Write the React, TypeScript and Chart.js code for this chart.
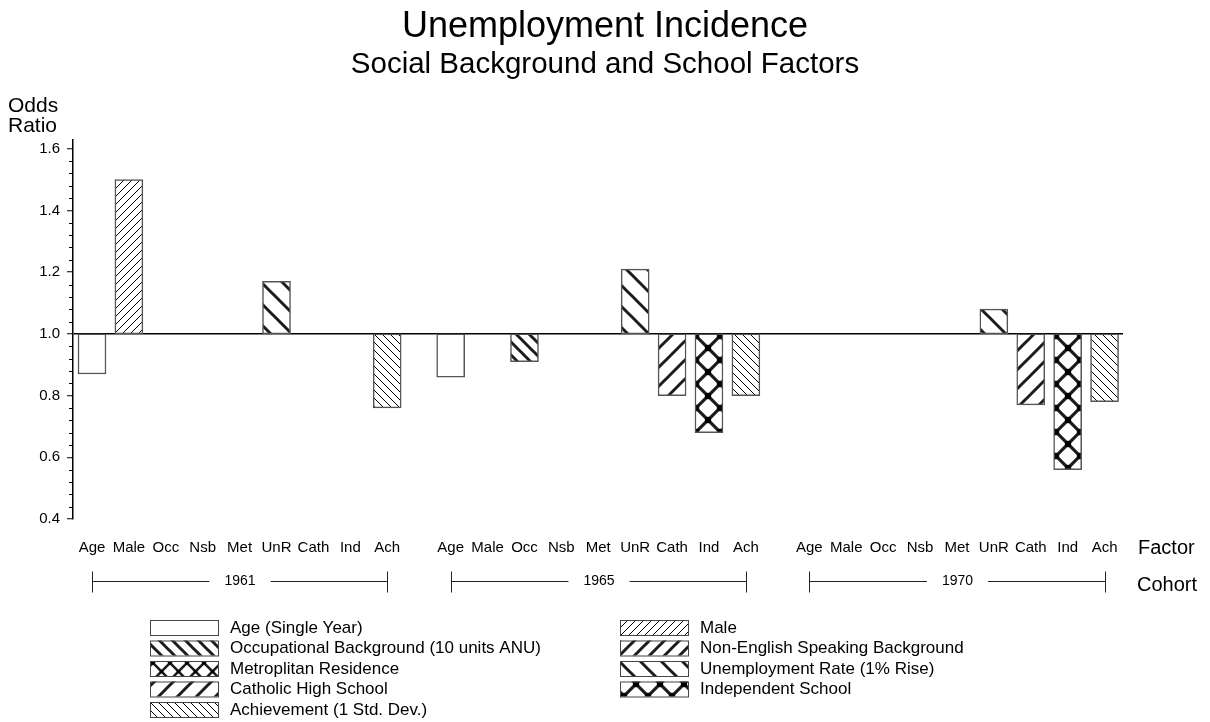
import React, { useEffect, useRef } from 'react';
import { Chart, registerables } from 'chart.js';

Chart.register(...registerables);

// ---------- data ----------
const FACTORS = ['Age', 'Male', 'Occ', 'Nsb', 'Met', 'UnR', 'Cath', 'Ind', 'Ach'];
const FACTOR_NAMES = [
  'Age (Single Year)',
  'Male',
  'Occupational Background (10 units ANU)',
  'Non-English Speaking Background',
  'Metroplitan Residence',
  'Unemployment Rate (1% Rise)',
  'Catholic High School',
  'Independent School',
  'Achievement (1 Std. Dev.)',
];
const COHORTS = ['1961', '1965', '1970'];
const ODDS_1961 = [0.87, 1.5, null, null, null, 1.17, null, null, 0.76];
const ODDS_1965 = [0.86, null, 0.91, null, null, 1.21, 0.8, 0.68, 0.8];
const ODDS_1970 = [null, null, null, null, null, 1.08, 0.77, 0.56, 0.78];
const ODDS_BY_COHORT = [ODDS_1961, ODDS_1965, ODDS_1970];
const BASELINE = 1.0;
const Y_TICKS = [0.4, 0.6, 0.8, 1.0, 1.2, 1.4, 1.6];
const Y_MINOR_STEP = 0.04;
const Y_MIN = 0.4;
const Y_MAX = 1.63;
const TITLE = 'Unemployment Incidence';
const SUBTITLE = 'Social Background and School Factors';
const Y_TITLE = ['Odds', 'Ratio'];
const X_TITLE = 'Factor';
const COHORT_TITLE = 'Cohort';

// ---------- layout helpers (slot units) ----------
const GROUP_SPAN = 9.72;
const X_MIN = -0.515;
const X_MAX = 2 * GROUP_SPAN + FACTORS.length - 1 + 0.5;
const FONT = "'Liberation Sans', Arial, sans-serif";

type PatSpec = { kind: string; p?: number; w?: number; color?: string; dots?: number };
const PATTERNS: PatSpec[] = [
  { kind: 'none' },
  { kind: 'fwd', p: 8, w: 1, color: '#000' },
  { kind: 'back', p: 13, w: 3, color: '#1c1c1c' },
  { kind: 'fwd', p: 15, w: 3, color: '#1c1c1c' },
  { kind: 'cross', p: 17, w: 2.6, color: '#1c1c1c', dots: 1.8 },
  { kind: 'back', p: 21, w: 3, color: '#1c1c1c' },
  { kind: 'fwd', p: 19, w: 3, color: '#1c1c1c' },
  { kind: 'cross', p: 24, w: 3.2, color: '#1c1c1c', dots: 3.2 },
  { kind: 'back', p: 8, w: 1, color: '#000' },
];

function makePattern(spec: PatSpec): any {
  if (spec.kind === 'none') return '#ffffff';
  const p = spec.p as number;
  const c = document.createElement('canvas');
  c.width = p;
  c.height = p;
  const g = c.getContext('2d') as CanvasRenderingContext2D;
  g.fillStyle = '#ffffff';
  g.fillRect(0, 0, p, p);
  g.strokeStyle = spec.color as string;
  g.lineWidth = spec.w as number;
  const fwd = () => {
    for (let k = -1; k <= 1; k++) {
      g.beginPath();
      g.moveTo(k * p - 2, p + 2);
      g.lineTo(k * p + p + 2, -2);
      g.stroke();
    }
  };
  const back = () => {
    for (let k = -1; k <= 1; k++) {
      g.beginPath();
      g.moveTo(k * p - 2, -2);
      g.lineTo(k * p + p + 2, p + 2);
      g.stroke();
    }
  };
  if (spec.kind === 'fwd') fwd();
  if (spec.kind === 'back') back();
  if (spec.kind === 'cross') {
    fwd();
    back();
    if (spec.dots) {
      g.fillStyle = '#000';
      const pts = [[0, 0], [p, 0], [0, p], [p, p], [p / 2, p / 2]];
      for (const [x, y] of pts) {
        g.beginPath();
        g.arc(x, y, spec.dots, 0, Math.PI * 2);
        g.fill();
      }
    }
  }
  return g.createPattern(c, 'repeat');
}

const decorPlugin = {
  id: 'decor',
  afterDraw(chart: any) {
    const ctx = chart.ctx as CanvasRenderingContext2D;
    const xs = chart.scales.x;
    const ys = chart.scales.y;
    const area = chart.chartArea;
    ctx.save();
    // minor y ticks
    ctx.strokeStyle = '#000';
    ctx.lineWidth = 1;
    for (let v = Y_MIN + Y_MINOR_STEP; v < Y_TICKS[Y_TICKS.length - 1] + 1e-9; v += Y_MINOR_STEP) {
      const isMajor = Y_TICKS.some((t) => Math.abs(t - v) < 1e-6);
      if (isMajor) continue;
      const py = Math.round(ys.getPixelForValue(v)) + 0.5;
      ctx.beginPath();
      ctx.moveTo(area.left - 4, py);
      ctx.lineTo(area.left, py);
      ctx.stroke();
    }
    // y title
    ctx.fillStyle = '#000';
    ctx.font = `21px ${FONT}`;
    ctx.textAlign = 'left';
    ctx.textBaseline = 'middle';
    ctx.fillText(Y_TITLE[0], 8, 106);
    ctx.fillText(Y_TITLE[1], 8, 126);
    // right side titles
    ctx.font = `20px ${FONT}`;
    ctx.fillText(X_TITLE, area.right + 15, 548);
    ctx.fillText(COHORT_TITLE, area.right + 14, 585);
    // cohort brackets
    const by = 581.5;
    ctx.font = `14px ${FONT}`;
    ctx.textAlign = 'center';
    ctx.lineWidth = 1;
    ctx.strokeStyle = '#222';
    COHORTS.forEach((c, g) => {
      const x0 = Math.round(xs.getPixelForValue(g * GROUP_SPAN)) + 0.5;
      const x1 = Math.round(xs.getPixelForValue(g * GROUP_SPAN + FACTORS.length - 1)) + 0.5;
      const cx = (x0 + x1) / 2;
      const tw = ctx.measureText(c).width;
      const gap = 15;
      ctx.beginPath();
      ctx.moveTo(x0, by);
      ctx.lineTo(cx - tw / 2 - gap, by);
      ctx.moveTo(cx + tw / 2 + gap, by);
      ctx.lineTo(x1, by);
      ctx.moveTo(x0, by - 10);
      ctx.lineTo(x0, by + 11);
      ctx.moveTo(x1, by - 10);
      ctx.lineTo(x1, by + 11);
      ctx.stroke();
      ctx.fillText(c, cx, by);
    });
    // legend
    ctx.textAlign = 'left';
    ctx.font = `17px ${FONT}`;
    chart.data.datasets.forEach((ds: any, i: number) => {
      const col = i % 2;
      const row = Math.floor(i / 2);
      const bx = col === 0 ? 150 : 620;
      const byy = 620 + row * 20.5;
      ctx.fillStyle = '#fff';
      ctx.fillRect(bx, byy, 68, 15);
      ctx.fillStyle = ds.backgroundColor;
      ctx.fillRect(bx, byy, 68, 15);
      ctx.strokeStyle = '#444';
      ctx.lineWidth = 1;
      ctx.strokeRect(bx + 0.5, byy + 0.5, 68, 15);
      ctx.fillStyle = '#000';
      ctx.fillText(ds.label, bx + 80, byy + 8);
    });
    ctx.restore();
  },
};

export default function App() {
  const ref = useRef<HTMLCanvasElement | null>(null);
  useEffect(() => {
    if (!ref.current) return;
    Chart.defaults.font.family = FONT;
    const datasets = FACTORS.map((f, i) => ({
      label: FACTOR_NAMES[i],
      data: ODDS_BY_COHORT.map((vals, g) =>
        vals[i] == null ? null : { x: g * GROUP_SPAN + i, y: [BASELINE, vals[i] as number] }
      ).filter((d) => d !== null),
      backgroundColor: makePattern(PATTERNS[i]),
      borderColor: '#555',
      borderWidth: 1.5,
      borderSkipped: false,
      barThickness: 28,
      grouped: false,
    }));
    const slotTicks: number[] = [];
    COHORTS.forEach((_, g) => FACTORS.forEach((__, i) => slotTicks.push(g * GROUP_SPAN + i)));
    const chart = new Chart(ref.current, {
      type: 'bar',
      data: { datasets: datasets as any },
      options: {
        responsive: false,
        animation: false,
        events: [],
        layout: { padding: { left: 0, right: 0, top: 0, bottom: 163 } },
        plugins: {
          legend: { display: false },
          tooltip: { enabled: false },
          title: {
            display: true,
            text: TITLE,
            color: '#000',
            font: { family: FONT, size: 36, weight: 'normal', lineHeight: 1 },
            padding: { top: 9, bottom: 5 },
          },
          subtitle: {
            display: true,
            text: SUBTITLE,
            color: '#000',
            font: { family: FONT, size: 29.5, weight: 'normal', lineHeight: 1 },
            padding: { top: 0, bottom: 60 },
          },
        },
        scales: {
          x: {
            type: 'linear',
            position: 'bottom',
            offset: false,
            min: X_MIN,
            max: X_MAX,
            afterBuildTicks: (s: any) => {
              s.ticks = slotTicks.map((v) => ({ value: v }));
            },
            afterFit: (s: any) => {
              s.height = 40;
            },
            grid: { display: false, drawTicks: false, offset: false },
            border: { display: false },
            ticks: {
              autoSkip: false,
              maxRotation: 0,
              padding: 20,
              color: '#000',
              font: { family: FONT, size: 15 },
              callback: (_v: any, i: number) => FACTORS[i % FACTORS.length],
            },
          },
          y: {
            type: 'linear',
            position: 'left',
            min: Y_MIN,
            max: Y_MAX,
            afterBuildTicks: (s: any) => {
              s.ticks = Y_TICKS.map((v) => ({ value: v }));
            },
            afterFit: (s: any) => {
              s.width = 73;
            },
            grid: {
              drawOnChartArea: true,
              color: (c: any) => (c.tick && Math.abs(c.tick.value - BASELINE) < 1e-9 ? '#000' : 'rgba(0,0,0,0)'),
              lineWidth: 1.5,
              tickLength: 6,
              tickColor: '#000',
              tickWidth: 1,
            },
            border: { display: true, color: '#000', width: 1.5 },
            ticks: {
              padding: 7,
              color: '#000',
              font: { family: FONT, size: 15 },
              callback: (v: any) => Number(v).toFixed(1),
            },
          },
          yr: {
            type: 'linear',
            position: 'right',
            display: true,
            afterFit: (s: any) => {
              s.width = 87;
            },
            grid: { display: false, drawTicks: false },
            border: { display: false },
            ticks: { display: false },
          },
        },
      } as any,
      plugins: [decorPlugin],
    });
    return () => chart.destroy();
  }, []);
  return (
    <div style={{ position: 'absolute', left: 0, top: 0, width: 1210, height: 722, background: '#fff' }}>
      <canvas ref={ref} width={1210} height={722} />
    </div>
  );
}
